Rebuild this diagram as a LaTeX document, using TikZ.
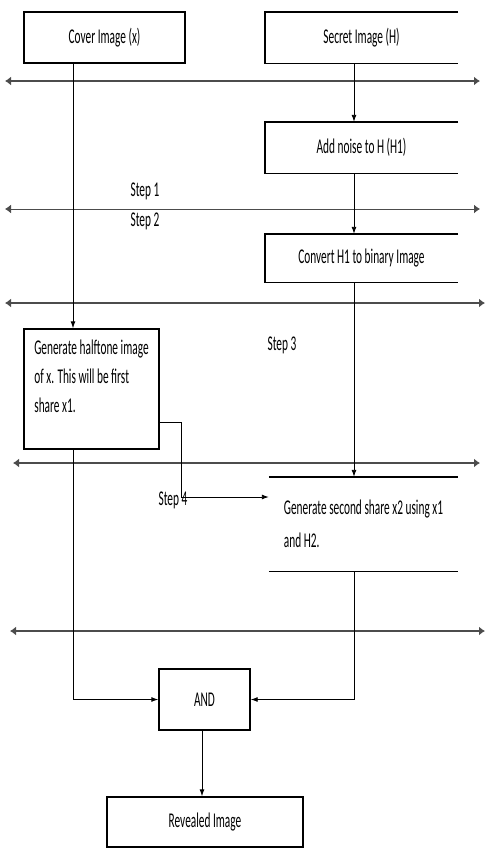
\documentclass[tikz,border=0pt]{standalone}
\usepackage{fontspec}
\setmainfont{Carlito}[FakeStretch=0.54]
\usetikzlibrary{arrows.meta,positioning}
\tikzset{
    box/.style={draw,minimum width=#1,inner sep=0pt,line width=1.4pt},
    openbox/.style={minimum width=193pt,inner sep=0pt},
    stage/.style={line width=2.6pt,draw=black!70,{Latex[length=6pt,width=9pt]}-{Latex[length=6pt,width=9pt]}},
    flow/.style={line width=0.9pt,-{Latex[length=7pt,width=5pt]}},
    steplabel/.style={inner sep=0pt}
}
\begin{document}
\begin{tikzpicture}[x=1pt,y=-1pt,font=\fontsize{21}{29}\selectfont]
    \useasboundingbox(0,0)rectangle(491,849);
    % separators between the steps
    \foreach \y/\a/\b/\w in {81/5/480/2.6,209/5/480/1,303/5/485/2.6,463/13/480/2.6,631/10/485/2.6}{
        \draw[stage,line width=\w pt](\a,\y)--(\b,\y);
    }
    % boxes
    \node[box=161pt,minimum height=51pt](cover)at(104.5,37.5){Cover Image (x)};
    \node[openbox,minimum height=51pt](secret)at(361.5,37.5){Secret Image (H)};
    \node[openbox,minimum height=51pt](noise)at(361.5,147.5){Add noise to H (H1)};
    \node[openbox,minimum height=48pt](convert)at(361.5,258){Convert H1 to binary Image};
    \node[box=135pt,minimum height=120pt,align=left](halftone)at(91.5,389)
        {Generate halftone image\\of x. This will be first\\share x1.\\[-4pt]};
    \node[minimum width=189pt,minimum height=94pt,inner sep=0pt,align=left](share)at(363.5,524)
        {Generate second share x2 using x1\\[4pt]and H2.};
    \node[box=91pt,minimum height=61pt](and)at(204.5,699.5){AND};
    \node[box=196pt,minimum height=50pt](revealed)at(205,822){Revealed Image};
    \foreach \n in {secret,noise,convert}{
        \draw[line width=1.4pt](\n.north east)--(\n.north west)--(\n.south west)--(\n.south east);
    }
    \draw[line width=1.4pt](share.north west)--(share.north east);
    \draw[line width=1.4pt](share.south west)--(share.south east);
    % step labels
    \node[steplabel](step1)at(145,191){Step 1};
    \node[steplabel](step2)at(145,221){Step 2};
    \node[steplabel](step3)at(282,345){Step 3};
    \node[steplabel](step4)at(173,500){Step 4};
    % connectors
    \coordinate(cx)at(73,0);
    \coordinate(sx)at(354,0);
    \coordinate(hx)at(159,422);
    \coordinate(elbow)at(181,497);
    \draw[flow](cx|-cover.south)--(cx|-halftone.north);
    \draw[flow](sx|-secret.south)--(sx|-noise.north);
    \draw[flow](sx|-noise.south)--(sx|-convert.north);
    \draw[flow](sx|-convert.south)--(sx|-share.north);
    \draw[flow](hx)-|(elbow)--(elbow-|share.west);
    \draw[flow](cx|-halftone.south)|-(and.west);
    \draw[flow](sx|-share.south)|-(and.east);
    \draw[flow](and.south-|202,0)--(revealed.north-|202,0);
\end{tikzpicture}
\end{document}
